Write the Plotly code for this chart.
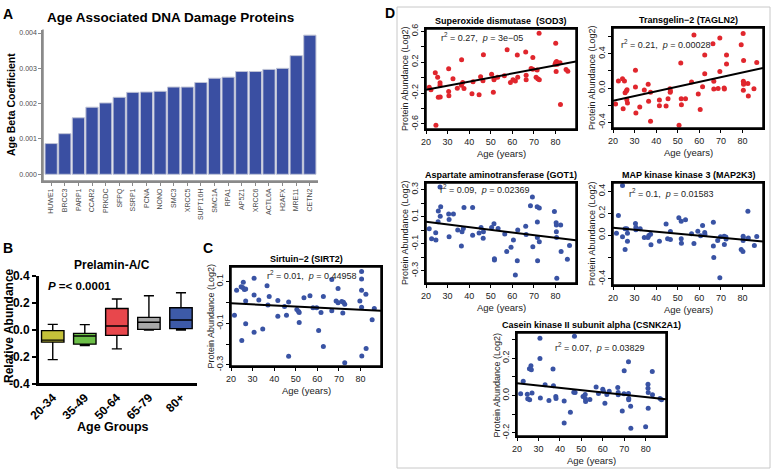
import plotly.graph_objects as go

W, H = 774, 472
FONT = "Liberation Sans, Arial, sans-serif"


def fx(p):
    return p / W


def fy(p):
    return 1 - p / H


# ---------------- Panel A data ----------------
genes = ["HUWE1", "BRCC3", "PARP1", "CCAR2", "PRKDC", "SFPQ", "SSRP1", "PCNA", "NONO", "SMC3",
         "XRCC5", "SUPT16H", "SMC1A", "RPA1", "AP5Z1", "XRCC6", "ACTL6A", "H2AFX", "MRE11", "CETN2"]
beta = [0.00087, 0.00115, 0.0016, 0.0019, 0.00202, 0.00218, 0.00232, 0.00233, 0.00235, 0.00247,
        0.00247, 0.0026, 0.00272, 0.00275, 0.00291, 0.00291, 0.00297, 0.0030, 0.00336, 0.00394]
beta_ticks = [0.0, 0.001, 0.002, 0.003, 0.004]

# ---------------- Panel B data ----------------
age_groups = ["20-34", "35-49", "50-64", "65-79", "80+"]
box_q1 = [-0.09, -0.105, -0.04, 0.005, 0.01]
box_med = [-0.075, -0.045, 0.03, 0.057, 0.074]
box_q3 = [-0.005, -0.025, 0.16, 0.094, 0.165]
box_low = [-0.22, -0.115, -0.14, 0.0, 0.0]
box_high = [0.042, 0.04, 0.23, 0.254, 0.276]
box_colors = ["#c4c13a", "#6cbf48", "#e8474c", "#a8a8a8", "#3d5aa8"]
b_ticks = [-0.4, -0.2, 0.0, 0.2, 0.4]
b_ticktext = ["-0.4", "-0.2", "0.0", "0.2", "0.4"]

# ---------------- Scatter data ----------------
sod3_age = [21.5, 22.3, 24.3, 24.6, 25.4, 25.7, 26.5, 26.6, 26.5, 30.5, 30.5, 30.6, 32.5, 34.5, 36.5, 36.4,
            37.0, 37.6, 41.3, 41.8, 44.6, 45.3, 46.4, 46.6, 50.4, 51.2, 51.5, 51.6, 53.2, 56.3, 57.6, 59.1,
            60.3, 61.4, 62.3, 62.5, 66.2, 66.4, 66.4, 68.7, 69.5, 69.5, 71.0, 71.5, 71.8, 72.4, 72.5, 79.8,
            80.1, 80.1, 80.3, 80.5, 80.8, 82.1, 82.3, 84.9, 85.7]
sod3_val = [-0.124, -0.158, 0.063, -0.617, 0.006, -0.254, -0.067, -0.249, -0.1, 0.115, -0.18, -0.236, -0.015,
            -0.137, 0.232, -0.1, -0.063, -0.14, -0.21, -0.054, -0.223, 0.011, -0.041, 0.297, 0.045, -0.189,
            -0.028, -0.011, 0.006, 0.024, 0.362, -0.063, -0.028, -0.045, 0.292, 0.006, 0.331, 0.032, -0.028,
            0.119, 0.262, 0.11, 0.006, 0.1, -0.015, 0.574, -0.028, 0.175, 0.444, 0.197, 0.08, 0.21, 0.175,
            0.193, -0.349, 0.106, 0.084]

tagln2_age = [21.2, 22.5, 24.4, 24.7, 25.3, 25.6, 26.2, 26.5, 26.4, 26.7, 30.4, 30.4, 30.6, 32.4, 34.5, 36.3,
              36.5, 37.4, 37.4, 41.5, 41.5, 44.6, 45.5, 46.4, 46.6, 46.5, 50.6, 51.4, 51.6, 51.7, 53.6, 56.4,
              57.5, 59.5, 60.4, 61.5, 62.5, 62.5, 66.3, 66.7, 66.7, 68.7, 69.5, 69.5, 71.5, 71.6, 72.6, 72.6,
              79.4, 80.3, 80.5, 80.4, 80.5, 80.4, 80.6, 82.5, 82.7, 85.3, 86.6]
tagln2_val = [-0.186, 0.082, 0.109, -0.241, 0.082, -0.054, -0.035, -0.019, -0.136, -0.175, 0.206, 0.012,
              -0.291, -0.221, -0.023, 0.043, -0.155, -0.05, -0.388, -0.14, -0.206, -0.21, -0.124, -0.008,
              -0.035, -0.05, -0.435, 0.291, -0.124, -0.194, -0.124, 0.07, 0.617, -0.07, -0.249, 0.016, 0.384,
              0.167, 0.517, 0.078, -0.012, -0.004, 0.194, 0.583, 0.0, -0.012, 0.384, 0.28, 0.505, 0.637, 0.322,
              0.078, 0.043, -0.027, 0.058, 0.054, -0.093, -0.008, 0.299]

got1_age = [21.5, 22.6, 24.5, 24.6, 25.6, 25.7, 26.5, 26.6, 26.8, 30.5, 30.7, 30.7, 32.7, 34.7, 36.4, 36.7,
            37.3, 37.6, 41.6, 41.6, 44.6, 45.5, 46.5, 46.6, 50.4, 51.5, 51.7, 51.7, 53.4, 56.5, 57.4, 59.4,
            60.5, 61.4, 62.3, 62.5, 66.2, 66.4, 68.4, 69.3, 69.5, 71.5, 71.6, 71.6, 71.7, 72.5, 72.5, 79.5,
            80.3, 80.4, 80.4, 80.5, 80.6, 82.4, 82.6, 85.5, 86.5]
got1_val = [0.011, -0.063, -0.019, -0.073, 0.062, 0.143, 0.32, 0.104, 0.173, 0.119, 0.079, -0.048, 0.119,
            0.001, -0.117, -0.011, 0.013, 0.168, 0.168, -0.038, -0.021, 0.021, -0.06, -0.011, 0.021, 0.048,
            -0.21, -0.22, 0.013, -0.028, -0.158, -0.126, -0.073, -0.33, -0.225, 0.001, 0.03, -0.031, 0.18,
            0.246, -0.122, 0.173, 0.06, -0.053, -0.225, 0.165, -0.085, 0.138, 0.055, 0.038, -0.011, -0.053,
            -0.354, 0.038, -0.158, -0.215, -0.112]

map2k3_age = [21.6, 22.5, 24.4, 24.4, 25.6, 25.6, 26.4, 26.7, 26.7, 30.4, 30.6, 30.6, 32.6, 34.5, 36.2, 36.6,
              37.4, 37.6, 41.5, 44.6, 45.3, 46.6, 46.6, 50.5, 51.6, 51.6, 51.7, 53.6, 56.4, 57.5, 59.3, 60.6,
              61.5, 62.5, 62.6, 66.5, 66.5, 66.7, 68.5, 69.5, 69.8, 71.5, 71.6, 72.3, 72.4, 79.4, 80.2, 80.3,
              80.3, 80.4, 82.5, 82.7, 85.5, 86.6]
map2k3_val = [0.018, 0.179, 0.453, -0.015, 0.058, -0.131, 0.058, 0.018, -0.055, 0.106, 0.073, 0.049, 0.058,
              -0.021, -0.021, -0.003, 0.009, -0.088, -0.055, 0.103, -0.033, 0.033, -0.04, 0.158, 0.128, -0.033,
              -0.073, 0.14, 0.012, -0.076, 0.036, -0.006, 0.088, 0.024, 0.006, 0.119, -0.1, -0.204, -0.049,
              -0.389, -0.015, -0.009, -0.085, -0.018, -0.036, -0.131, -0.149, -0.009, -0.049, -0.027, 0.219,
              -0.027, -0.094, -0.012]

csnk_age = [21.7, 22.9, 24.8, 25.0, 25.8, 25.9, 26.5, 26.7, 27.0, 30.7, 30.7, 30.9, 33.1, 34.9, 36.8, 37.0,
            38.1, 38.2, 42.0, 42.0, 44.9, 46.8, 46.5, 47.1, 50.8, 51.8, 51.9, 52.0, 54.0, 56.9, 58.0, 60.0,
            60.3, 61.0, 61.9, 63.0, 67.0, 67.2, 67.2, 69.1, 70.0, 69.9, 72.0, 72.0, 72.1, 72.1, 73.0, 73.1,
            80.0, 81.1, 81.1, 81.2, 81.2, 83.1, 83.2, 86.7, 87.4]
csnk_val = [0.009, 0.077, 0.007, -0.018, 0.143, -0.023, 0.16, 0.138, 0.014, 0.307, 0.199, -0.013, 0.057,
            -0.027, 0.142, 0.052, -0.005, -0.016, -0.03, -0.147, -0.09, 0.317, 0.018, 0.016, -0.005, 0.005,
            -0.018, -0.032, -0.022, 0.045, 0.011, 0.034, 0.023, -0.041, 0.005, 0.023, 0.043, 0.016, 0.004,
            -0.083, 0.133, 0.009, 0.181, 0.011, -0.016, -0.023, -0.057, -0.176, -0.167, 0.061, 0.039, 0.016,
            -0.068, 0.129, 0.004, -0.016, -0.023]

sirt2_age = [21.6, 22.6, 24.7, 25.0, 25.4, 25.7, 26.2, 26.8, 26.8, 26.8, 30.7, 30.7, 30.7, 32.9, 34.7, 36.7,
             37.1, 37.7, 41.7, 41.7, 44.8, 45.7, 46.7, 46.7, 50.5, 51.3, 51.6, 51.6, 53.8, 56.6, 58.0, 59.7,
             60.6, 61.7, 62.8, 62.8, 66.7, 66.7, 68.7, 69.6, 69.6, 71.3, 71.8, 72.1, 72.7, 72.7, 79.7, 80.5,
             80.5, 80.5, 80.5, 80.6, 82.5, 82.6, 85.4, 86.4]
sirt2_val = [-0.062, 0.059, 0.075, -0.183, 0.072, 0.097, 0.062, 0.064, 0.007, -0.102, 0.116, 0.036, -0.143,
             0.012, -0.127, 0.08, -0.012, 0.029, 0.009, -0.066, -0.02, -0.062, 0.002, -0.258, -0.034, -0.043,
             -0.048, -0.096, 0.023, 0.032, -0.025, -0.025, -0.135, -0.048, -0.211, 0.028, 0.11, -0.04, 0.007,
             0.067, -0.001, 0.004, -0.051, 0.001, -0.289, -0.009, 0.007, 0.149, 0.113, 0.059, -0.023, -0.257,
             0.039, -0.221, -0.083, -0.029]

fit_x = [20, 89.5]
sod3_fit = [-0.157, 0.21]
tagln2_fit = [-0.148, 0.233]
got1_fit = [0.062, -0.075]
map2k3_fit = [0.067, -0.058]
csnk_fit = [0.066, -0.02]
sirt2_fit = [-0.004, -0.04]

age_ticks = [20, 30, 40, 50, 60, 70, 80]

RED = "#e0262d"
BLUE = "#3953a4"

scatters = [
    dict(title="Superoxide dismutase  (SOD3)", x=sod3_age, y=sod3_val, fit=sod3_fit, color=RED,
         box=(426, 576, 29, 129), yr=[-0.665, 0.63],
         tv=[-0.6, -0.2, 0.2, 0.6], tt=["-0.6", "-0.2", "0.2", "0.6"], mv=[-0.4, 0.0, 0.4],
         stat=("0.27", "3e\u221205"), sp=(439, 37)),
    dict(title="Transgelin\u22122 (TAGLN2)", x=tagln2_age, y=tagln2_val, fit=tagln2_fit, color=RED,
         box=(613, 763, 28, 128), yr=[-0.466, 0.70],
         tv=[-0.4, 0.0, 0.4], tt=["-0.4", "0.0", "0.4"], mv=[-0.2, 0.2, 0.6],
         stat=("0.21", "0.00028"), sp=(619, 44)),
    dict(title="Aspartate aminotransferase (GOT1)", x=got1_age, y=got1_val, fit=got1_fit, color=BLUE,
         box=(426, 576, 183, 283), yr=[-0.39, 0.349],
         tv=[-0.3, -0.1, 0.1, 0.3], tt=["-0.3", "-0.1", "0.1", "0.3"], mv=[-0.2, 0.0, 0.2],
         stat=("0.09", "0.02369"), sp=(438, 189)),
    dict(title="MAP kinase kinase 3 (MAP2K3)", x=map2k3_age, y=map2k3_val, fit=map2k3_fit, color=BLUE,
         box=(613, 763, 183, 285), yr=[-0.456, 0.477],
         tv=[-0.4, 0.0, 0.2, 0.4], tt=["-0.4", "0.0", "0.2", "0.4"], mv=[-0.2],
         stat=("0.1", "0.01583"), sp=(627, 193)),
    dict(title="Casein kinase II subunit alpha (CSNK2A1)", x=csnk_age, y=csnk_val, fit=csnk_fit, color=BLUE,
         box=(517, 666, 333, 436), yr=[-0.217, 0.335],
         tv=[-0.2, 0.0, 0.2], tt=["-0.2", "0.0", "0.2"], mv=[-0.1, 0.1, 0.3],
         stat=("0.07", "0.03829"), sp=(553, 347)),
    dict(title="Sirtuin\u22122 (SIRT2)", x=sirt2_age, y=sirt2_val, fit=sirt2_fit, color=BLUE,
         box=(231, 381, 267, 366), yr=[-0.305, 0.17],
         tv=[-0.3, -0.1, 0.1], tt=["-0.3", "-0.1", "0.1"], mv=[-0.2, 0.0],
         stat=("0.01", "0.44958"), sp=(265, 275)),
]

fig = go.Figure()
annotations = []
shapes = []

# ---------------- Panel A ----------------
fig.add_trace(go.Bar(x=genes, y=beta, xaxis="x", yaxis="y", width=0.9,
                     marker=dict(color="#3a4fa2", line=dict(color="#bfc3d6", width=1))))

layout = dict(
    template="none",
    width=W, height=H, margin=dict(l=0, r=0, t=0, b=0, pad=0, autoexpand=False),
    paper_bgcolor="white", plot_bgcolor="rgba(0,0,0,0)", showlegend=False,
    font=dict(family=FONT, color="black"),
    boxmode="overlay",
)

common = dict(automargin=False, showgrid=False, zeroline=False, layer="above traces")

layout["xaxis"] = dict(domain=[fx(43), fx(318)], anchor="y", type="category", range=[-0.6, 19.6],
                       showline=True, linecolor="#8a8a8a", linewidth=1.5, ticks="outside", ticklen=3,
                       tickwidth=1, tickcolor="#8a8a8a", tickangle=-90,
                       tickfont=dict(size=7, color="#4d4d4d"), **common)
layout["yaxis"] = dict(domain=[fy(181), fy(29.5)], anchor="x", range=[-0.00019, 0.0041],
                       tickvals=beta_ticks, tickformat=".3f", showline=True, linecolor="#8a8a8a",
                       linewidth=1.5, ticks="outside", ticklen=3, tickwidth=1, tickcolor="#8a8a8a",
                       tickfont=dict(size=7, color="#4d4d4d"), **common)
shapes.append(dict(type="line", xref="paper", yref="paper", x0=fx(43), x1=fx(43), y0=fy(181), y1=fy(29.5),
                   line=dict(color="#8a8a8a", width=1.5)))
shapes.append(dict(type="line", xref="paper", yref="paper", x0=fx(43), x1=fx(318), y0=fy(181), y1=fy(181),
                   line=dict(color="#8a8a8a", width=1.5)))

annotations += [
    dict(text="<b>A</b>", x=fx(8), y=fy(14), font=dict(size=14)),
    dict(text="<b>Age Associated DNA Damage Proteins</b>", x=fx(45), y=fy(17), xanchor="left",
         font=dict(size=13.5)),
    dict(text="<b>Age Beta Coefficient</b>", x=fx(11), y=fy(105), textangle=-90, font=dict(size=10.5)),
]

# ---------------- Panel B ----------------
for g, a, m, b, lo, hi, c in zip(age_groups, box_q1, box_med, box_q3, box_low, box_high, box_colors):
    fig.add_trace(go.Box(x=[g], q1=[a], median=[m], q3=[b], lowerfence=[lo], upperfence=[hi],
                         xaxis="x2", yaxis="y2", fillcolor=c, width=0.7, whiskerwidth=0.45,
                         line=dict(color="black", width=1.4), boxpoints=False))

layout["xaxis2"] = dict(domain=[fx(38), fx(197)], anchor="y2", type="category", range=[-0.46, 4.5],
                        categoryorder="array", categoryarray=age_groups,
                        showline=True, linecolor="black", linewidth=2, ticks="", tickangle=-45,
                        tickfont=dict(size=12, weight="bold"), **common)
layout["yaxis2"] = dict(domain=[fy(384), fy(276)], anchor="x2", range=[-0.4005, 0.4005],
                        tickvals=b_ticks, ticktext=b_ticktext, showline=True, linecolor="black",
                        linewidth=2, ticks="outside", ticklen=4, tickwidth=2, tickcolor="black",
                        tickfont=dict(size=12, weight="bold"), **common)
shapes.append(dict(type="line", xref="paper", yref="paper", x0=fx(38), x1=fx(38), y0=fy(384), y1=fy(276),
                   line=dict(color="black", width=2)))
shapes.append(dict(type="line", xref="paper", yref="paper", x0=fx(38), x1=fx(197), y0=fy(384), y1=fy(384),
                   line=dict(color="black", width=2)))

annotations += [
    dict(text="<b>B</b>", x=fx(8), y=fy(248), font=dict(size=14)),
    dict(text="<b>C</b>", x=fx(208), y=fy(248), font=dict(size=14)),
    dict(text="<b>D</b>", x=fx(390), y=fy(13), font=dict(size=14)),
    dict(text="<b>Prelamin-A/C</b>", x=fx(112), y=fy(265), font=dict(size=12)),
    dict(text="<b><i>P</i> =< 0.0001</b>", x=fx(46), y=fy(286), xanchor="left", font=dict(size=11.5)),
    dict(text="<b>Relative Abundance</b>", x=fx(9), y=fy(326), textangle=-90, font=dict(size=12)),
    dict(text="<b>Age Groups</b>", x=fx(113), y=fy(427), font=dict(size=12.5)),
]

# ---------------- Scatter panels ----------------
for i, s in enumerate(scatters):
    n = i + 3
    xa, ya = f"x{n}", f"y{n}"
    l, r, t, b = s["box"]
    fig.add_trace(go.Scatter(x=s["x"], y=s["y"], mode="markers", xaxis=xa, yaxis=ya,
                             marker=dict(color=s["color"], size=5), cliponaxis=True))
    fig.add_trace(go.Scatter(x=fit_x, y=s["fit"], mode="lines", xaxis=xa, yaxis=ya,
                             line=dict(color="black", width=2)))
    layout[f"xaxis{n}"] = dict(domain=[fx(l), fx(r)], anchor=ya, range=[20, 89.5], tickvals=age_ticks,
                               showline=True, mirror=True, linecolor="black", linewidth=1.5,
                               ticks="outside", ticklen=3, tickwidth=1, tickcolor="black",
                               tickfont=dict(size=9, color="#222"), **common)
    layout[f"yaxis{n}"] = dict(domain=[fy(b), fy(t)], anchor=xa, range=s["yr"], tickvals=s["tv"],
                               ticktext=s["tt"], tickangle=-90, showline=True, mirror=True,
                               linecolor="black", linewidth=1.5, ticks="outside", ticklen=3, tickwidth=1,
                               tickcolor="black", tickfont=dict(size=9, color="#222"),
                               minor=dict(tickvals=s["mv"], ticks="outside", ticklen=3, tickwidth=1,
                                          tickcolor="black", showgrid=False),
                               **common)
    shapes.append(dict(type="rect", xref="paper", yref="paper", x0=fx(l), x1=fx(r), y0=fy(b), y1=fy(t),
                       line=dict(color="black", width=1.5)))
    cx = (l + r) / 2
    annotations += [
        dict(text=f"<b>{s['title']}</b>", x=fx(cx), y=fy(t - 8), font=dict(size=9)),
        dict(text="Age (years)", x=fx(cx), y=fy(b + 24), font=dict(size=9.5, color="#222")),
        dict(text="Protein Abundance (Log2)", x=fx(l - 21), y=fy((t + b) / 2), textangle=-90,
             font=dict(size=9, color="#222")),
        dict(text=f"r<sup>2</sup> = {s['stat'][0]},\u00a0 <i>p</i> = {s['stat'][1]}", x=fx(s["sp"][0]),
             y=fy(s["sp"][1]), xanchor="left", font=dict(size=9, color="#222")),
    ]

# Panel D border
shapes.append(dict(type="rect", xref="paper", yref="paper", x0=fx(397), x1=fx(770), y0=fy(468), y1=fy(7),
                   line=dict(color="#c8c8c8", width=1)))

for a in annotations:
    a.setdefault("xref", "paper")
    a.setdefault("yref", "paper")
    a.setdefault("showarrow", False)
    a.setdefault("xanchor", "center")
    a.setdefault("yanchor", "middle")

layout["annotations"] = annotations
layout["shapes"] = shapes
fig.update_layout(**layout)

fig.write_html("out.html", config={"displayModeBar": False},
               post_script="document.body.style.margin='0px';document.body.style.overflow='hidden';")
